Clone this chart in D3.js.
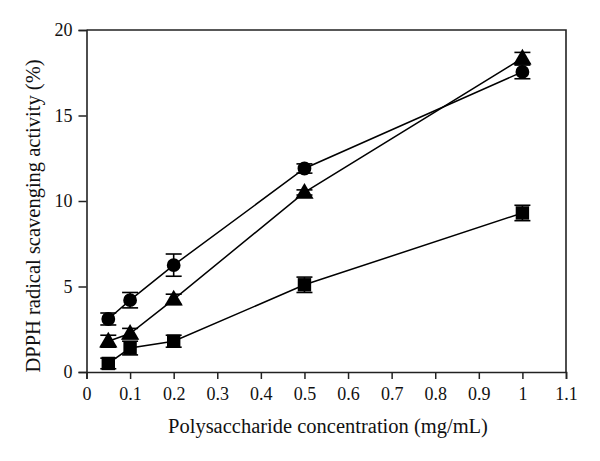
<!DOCTYPE html>
<html>
<head>
<meta charset="utf-8">
<script src="https://cdn.jsdelivr.net/npm/d3@7"></script>
<style>
  html, body { margin: 0; padding: 0; background: #fff; }
  svg { display: block; }
  text { font-family: "Liberation Serif", "DejaVu Serif", serif; fill: #111; }
</style>
</head>
<body>
<svg id="chart" width="600" height="461"></svg>
<script>
// ---- data ----
const concentrations = [0.05, 0.1, 0.2, 0.5, 1.0];
const circleValues   = [3.1, 4.2, 6.25, 11.9, 17.55];
const circleErrors   = [0.35, 0.45, 0.65, 0.27, 0.4];
const triangleValues = [1.8, 2.25, 4.25, 10.5, 18.35];
const triangleErrors = [0.35, 0.3, 0.3, 0.15, 0.34];
const squareValues   = [0.5, 1.4, 1.8, 5.1, 9.3];
const squareErrors   = [0.31, 0.4, 0.35, 0.45, 0.45];
const xTickValues = [0, 0.1, 0.2, 0.3, 0.4, 0.5, 0.6, 0.7, 0.8, 0.9, 1, 1.1];
const xTickLabels = ["0", "0.1", "0.2", "0.3", "0.4", "0.5", "0.6", "0.7", "0.8", "0.9", "1", "1.1"];
const yTickValues = [0, 5, 10, 15, 20];
const xTitle = "Polysaccharide concentration (mg/mL)";
const yTitle = "DPPH radical scavenging activity (%)";

const series = [
  { shape: "circle",   values: circleValues,   errors: circleErrors },
  { shape: "triangle", values: triangleValues, errors: triangleErrors },
  { shape: "square",   values: squareValues,   errors: squareErrors }
];

// ---- layout ----
const mLeft = 86.5, mRight = 566, mTop = 30, mBottom = 372;
const svg = d3.select("#chart");
const x = d3.scaleLinear().domain([0, 1.1]).range([mLeft, mRight]);
const y = d3.scaleLinear().domain([0, 20]).range([mBottom, mTop]);

const axisColor = "#222";

// frame (top & right)
svg.append("path")
  .attr("d", `M${mLeft},${mTop}H${mRight}V${mBottom}`)
  .attr("fill", "none").attr("stroke", axisColor).attr("stroke-width", 1.6);

// x axis
const xMinor = d3.range(0, 1.1001, 0.05).map(v => +v.toFixed(2));
const gx = svg.append("g").attr("transform", `translate(0,${mBottom})`);
gx.call(d3.axisBottom(x).tickValues(xMinor).tickSize(4).tickFormat(""))
  .call(g => g.select(".domain").remove());
gx.call(d3.axisBottom(x).tickValues(xTickValues).tickSize(7)
        .tickFormat((d, i) => xTickLabels[i]).tickPadding(8));
gx.selectAll("line").attr("stroke", axisColor).attr("stroke-width", 1.5);
gx.selectAll(".domain").attr("stroke", axisColor).attr("stroke-width", 1.6);
gx.selectAll("text").attr("font-size", 18).style("font-family", '"Liberation Serif", serif');

// y axis
const yMinor = d3.range(0, 21, 1);
const gy = svg.append("g").attr("transform", `translate(${mLeft},0)`);
gy.call(d3.axisLeft(y).tickValues(yMinor).tickSize(5).tickFormat(""))
  .call(g => g.select(".domain").remove());
gy.call(d3.axisLeft(y).tickValues(yTickValues).tickSize(8).tickPadding(6));
gy.selectAll("line").attr("stroke", axisColor).attr("stroke-width", 1.5);
gy.selectAll(".domain").attr("stroke", axisColor).attr("stroke-width", 1.6);
gy.selectAll("text").attr("font-size", 18).style("font-family", '"Liberation Serif", serif');

// axis titles
svg.append("text")
  .attr("x", 328).attr("y", 433)
  .attr("text-anchor", "middle").attr("font-size", 20.5)
  .text(xTitle);
svg.append("text")
  .attr("transform", "translate(40,216) rotate(-90)")
  .attr("text-anchor", "middle").attr("font-size", 20.5)
  .text(yTitle);

// lines
const line = d3.line().x((d, i) => x(concentrations[i])).y(d => y(d));
series.forEach(s => {
  svg.append("path").datum(s.values)
    .attr("d", line).attr("fill", "none")
    .attr("stroke", "#000").attr("stroke-width", 1.5);
});

// error bars
const capHalf = 8;
series.forEach(s => {
  const g = svg.append("g").attr("stroke", "#000").attr("stroke-width", 1.6);
  s.values.forEach((v, i) => {
    const cx = x(concentrations[i]);
    const y1 = y(v + s.errors[i]), y2 = y(v - s.errors[i]);
    g.append("line").attr("x1", cx).attr("x2", cx).attr("y1", y1).attr("y2", y2);
    g.append("line").attr("x1", cx - capHalf).attr("x2", cx + capHalf).attr("y1", y1).attr("y2", y1);
    g.append("line").attr("x1", cx - capHalf).attr("x2", cx + capHalf).attr("y1", y2).attr("y2", y2);
  });
});

// markers
const symbolMap = {
  circle:   d3.symbol().type(d3.symbolCircle).size(150),
  triangle: d3.symbol().type(d3.symbolTriangle).size(145),
  square:   d3.symbol().type(d3.symbolSquare).size(180)
};
series.forEach(s => {
  svg.append("g").selectAll("path").data(s.values).join("path")
    .attr("transform", (d, i) => `translate(${x(concentrations[i])},${y(d) + (s.shape === "triangle" ? 1 : 0)})`)
    .attr("d", symbolMap[s.shape]())
    .attr("fill", "#000");
});
</script>
</body>
</html>
